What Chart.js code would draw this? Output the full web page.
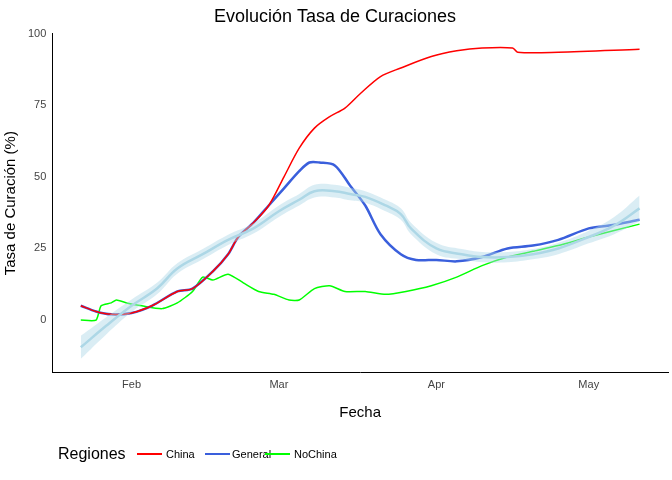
<!DOCTYPE html>
<html><head><meta charset="utf-8">
<script src="https://cdn.jsdelivr.net/npm/chart.js@4"></script>
<style>html,body{margin:0;padding:0;background:#fff}#w{width:672px;height:480px;position:relative}
#lg{position:absolute;left:58px;top:444px;font-family:'Liberation Sans',Arial,sans-serif;color:#000;white-space:nowrap}
#lg span{position:absolute;top:0;line-height:20px}
#lg i{position:absolute;top:9px;width:25px;height:2px}</style>
</head><body><div id="w"><canvas id="c"></canvas>
<div id="lg"><span style="left:0;font-size:16px">Regiones</span>
<i style="left:79px;background:#ff0000"></i><span style="left:108px;font-size:11px">China</span>
<i style="left:147px;background:#3a5fdc"></i><span style="left:174px;font-size:11px">General</span>
<i style="left:207px;background:#00ff00"></i><span style="left:236px;font-size:11px">NoChina</span></div></div>
<script>
// x = days since 22 Jan 2020
const tickDays = [10, 39, 70, 100];
const tickLabels = ['Feb', 'Mar', 'Apr', 'May'];
const generalDays = [0,3,6,10,14,19,22,26,29,31,34,37,40,43,45,47,50,53,56,59,63,66,70,74,79,84,89,94,100,104,110];
const generalVals = [5,3,2,2.5,5,10,11,17,23,29,34,40,46,52,55,55,54,47,40,30,23,21,21,20.5,22,25,26,28,32,33,35];
const chinaDays = [0,3,6,10,14,19,22,26,29,31,34,37,40,43,46,49,52,55,59,63,69,74,79,85,86,94,110];
const chinaVals = [5,3,2,2.5,5,10,11,17,23,29,34,40,50,60,67,71,74,79,85,88,92,94,95,95,93.5,93.5,94.5];
const noChinaDays = [0,3,4,6,7,9,12,16,19,22,24,26,29,32,35,38,41,43,46,49,52,56,60,64,69,74,79,84,89,94,100,110];
const noChinaVals = [0,0,5,6,7,6,5,4,6,10,15,14,16,13,10,9,7,7,11,12,10,10,9,10,12,15,19,22,24,26,29,33.5];
const smoothDays = [0,5,10,15,19,24,29,34,39,43,46,50,53,56,60,63,65,70,75,79,84,89,94,100,105,110];
const smoothVals = [-9.5,-2,5,11,18,23,28,32,38,42,45,45,44,43,40,37,32,25,23,22,22,23,25,29,33,39];
const bandHalf = [4,3,2.2,2,1.8,1.8,1.8,1.8,2,2,2.2,2.2,2.2,2,2,2,2,2,1.8,1.8,1.8,1.8,2,2.2,3,4.5];

const pts = (d, v) => d.map((x, i) => ({x, y: v[i]}));
const lo = smoothDays.map((x, i) => ({x, y: smoothVals[i] - bandHalf[i]}));
const hi = smoothDays.map((x, i) => ({x, y: smoothVals[i] + bandHalf[i]}));
const F = "'Liberation Sans', Arial, sans-serif";
Chart.defaults.font.family = F;
new Chart(document.getElementById('c'), {
  type: 'line',
  data: { datasets: [
    {label: 'lo', data: lo, borderWidth: 0, pointRadius: 0, tension: 0.4, fill: false},
    {label: 'hi', data: hi, borderWidth: 0, pointRadius: 0, tension: 0.4, fill: '-1', backgroundColor: 'rgba(173,216,230,0.45)'},
    {label: 'smooth', data: pts(smoothDays, smoothVals), borderColor: '#add8e6', borderWidth: 2.5, pointRadius: 0, tension: 0.4},
    {label: 'China', data: pts(chinaDays, chinaVals), borderColor: '#ff0000', borderWidth: 1.5, pointRadius: 0, tension: 0.3},
    {label: 'General', data: pts(generalDays, generalVals), borderColor: '#3a5fdc', borderWidth: 2.5, pointRadius: 0, tension: 0.3},
    {label: 'NoChina', data: pts(noChinaDays, noChinaVals), borderColor: '#00ff00', borderWidth: 1.5, pointRadius: 0, tension: 0.2}
  ]},
  options: {
    responsive: true, maintainAspectRatio: false, animation: false,
    layout: {padding: {left: 2, right: 4, top: 6, bottom: 58}},
    plugins: {
      title: {display: true, text: 'Evolución Tasa de Curaciones', color: '#000', font: {size: 18, weight: 'normal'}, padding: {top: 0, bottom: 6}},
      tooltip: {enabled: false},
      legend: {display: false}
    },
    scales: {
      x: {type: 'linear', min: -5.6, max: 115.6,
        afterBuildTicks: ax => { ax.ticks = tickDays.map(v => ({value: v})); },
        ticks: {color: '#444', font: {size: 11}, autoSkip: false, padding: 6, callback: v => tickLabels[tickDays.indexOf(v)]},
        grid: {display: false, drawTicks: false}, border: {color: '#000'},
        title: {display: true, text: 'Fecha', color: '#000', font: {size: 15}, padding: {top: 6, bottom: 0}}},
      y: {min: -18.4, max: 100,
        afterBuildTicks: ax => { ax.ticks = [0,25,50,75,100].map(v => ({value: v})); },
        ticks: {color: '#444', font: {size: 11}, padding: 6},
        grid: {display: false, drawTicks: false}, border: {color: '#000'},
        title: {display: true, text: 'Tasa de Curación (%)', color: '#000', font: {size: 15}, padding: {top: 0, bottom: 2}}}
    }
  }
});
</script></body></html>
